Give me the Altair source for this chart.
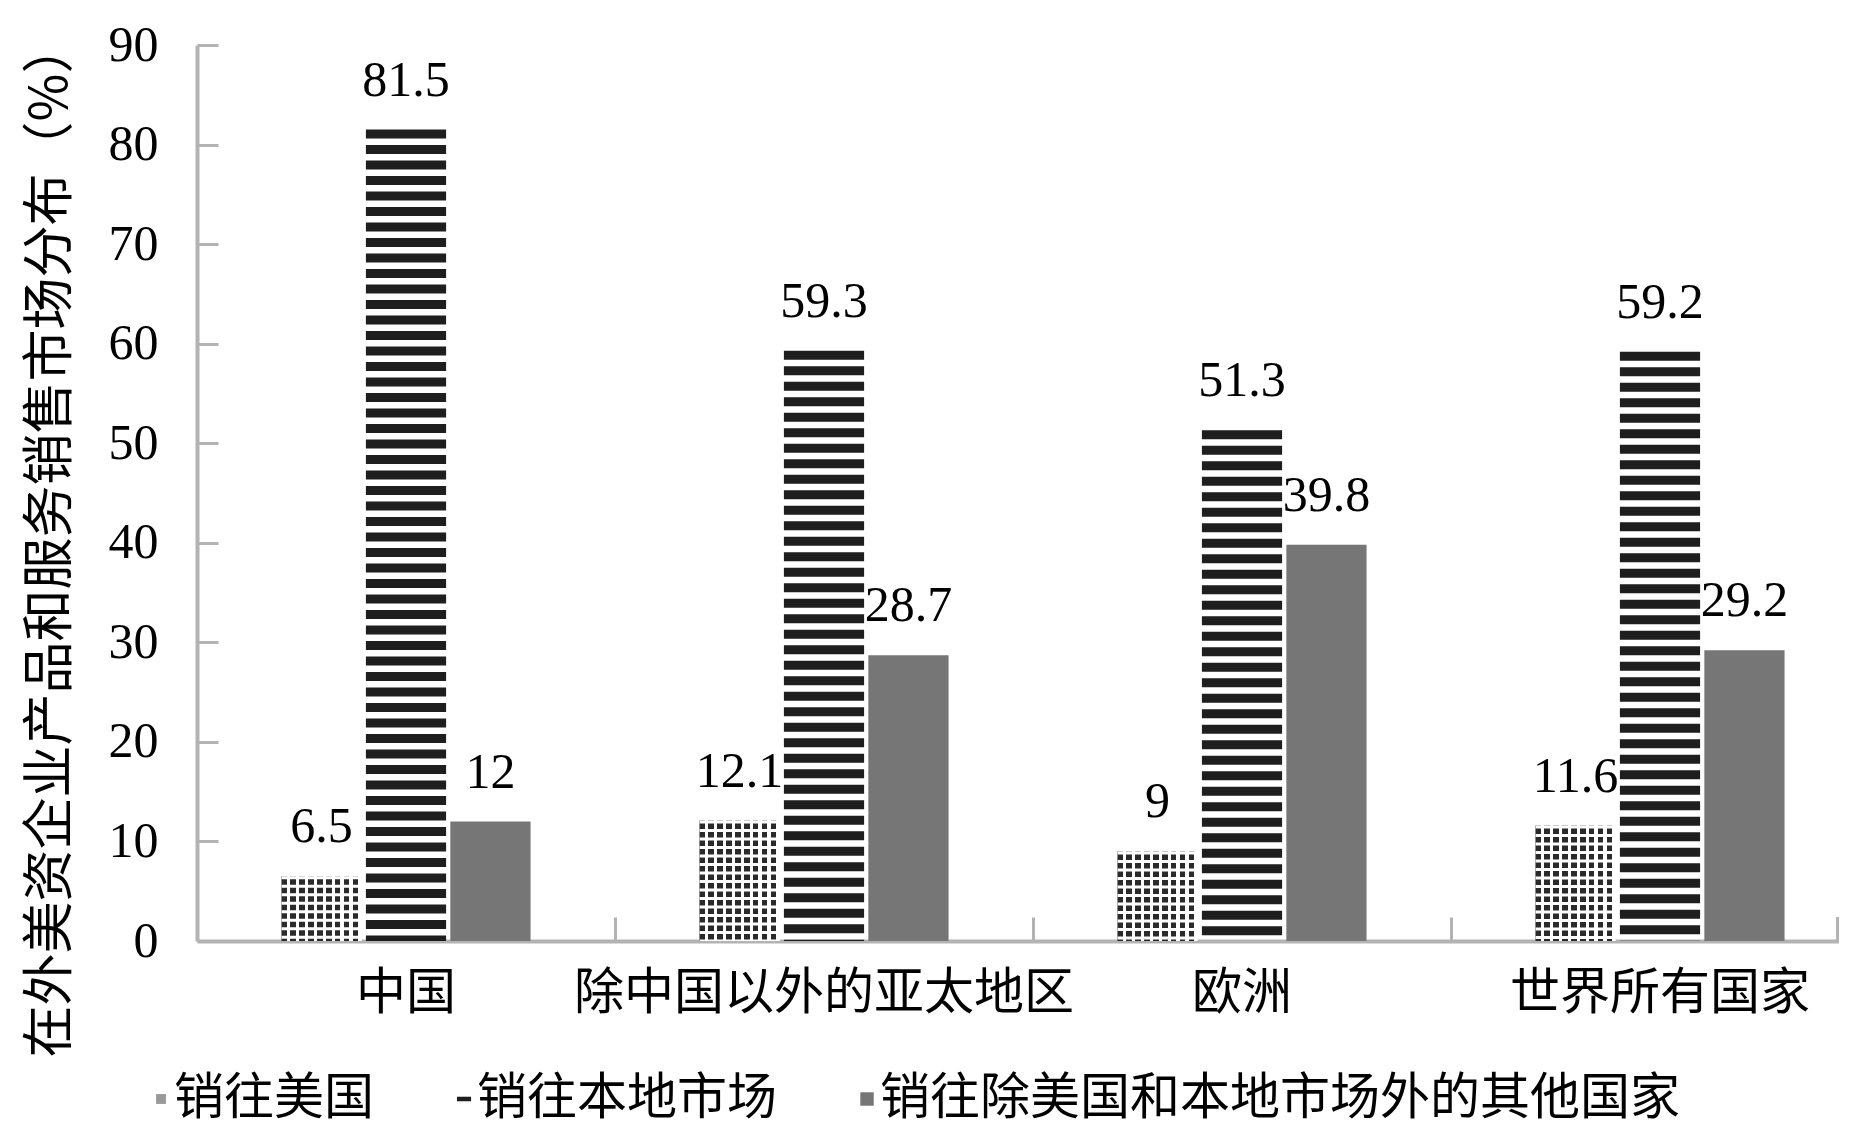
import altair as alt
import pandas as pd

# ---------------- data ----------------
CATEGORIES = ["中国", "除中国以外的亚太地区", "欧洲", "世界所有国家"]
SERIES = ["销往美国", "销往本地市场", "销往除美国和本地市场外的其他国家"]
US = [6.5, 12.1, 9, 11.6]
LOCAL = [81.5, 59.3, 51.3, 59.2]
OTHER = [12, 28.7, 39.8, 29.2]
Y_TICKS = [0, 10, 20, 30, 40, 50, 60, 70, 80, 90]
Y_TITLE = "在外美资企业产品和服务销售市场分布（%）"

rows = []
for s, vals in zip(SERIES, [US, LOCAL, OTHER]):
    for c, v in zip(CATEGORIES, vals):
        rows.append({"category": c, "series": s, "value": v})
df = pd.DataFrame(rows)

# ---------------- styles ----------------
W, H = 1642, 896          # visible plot area (the last band is cut by the frame)
X_RANGE = 1672            # full extent of the four category bands
BAR_W = 80.2
AXIS_GRAY = "#b3b3b3"
SERIF = "Liberation Serif"
CJK = "Noto Sans CJK SC"

x_scale = alt.Scale(domain=CATEGORIES, range=[0, X_RANGE], paddingInner=0, paddingOuter=0)
xo_scale = alt.Scale(domain=SERIES, paddingInner=0.05, paddingOuter=1)
y_scale = alt.Scale(domain=[0, 90], nice=False)

x_axis_main = alt.Axis(orient="bottom", ticks=False, tickSize=0, domain=True,
                       domainColor=AXIS_GRAY, domainWidth=4, labelFont=CJK,
                       labelFontSize=50, labelColor="black", labelPadding=27,
                       labelAngle=0, labelLimit=1000, labelOverlap=False,
                       title=None, grid=False)
y_axis_main = alt.Axis(orient="left", values=Y_TICKS, ticks=False, tickSize=0,
                       domain=True, domainColor=AXIS_GRAY, domainWidth=4,
                       labelFont=SERIF, labelFontSize=50, labelColor="black",
                       labelPadding=39, grid=False, title=Y_TITLE, titleFont=CJK,
                       titleFontSize=52, titleFontWeight="normal", titleColor="black",
                       titleX=-147, titleY=494, titleAlign="center",
                       titleBaseline="middle")
x_axis_ticks = alt.Axis(orient="top", offset=-H, labels=False, domain=False,
                        ticks=True, tickBand="extent", tickSize=24, tickWidth=3,
                        tickColor=AXIS_GRAY, title=None, grid=False)
y_axis_ticks = alt.Axis(orient="right", offset=-W, labels=False, domain=False,
                        ticks=True, tickSize=21, tickWidth=3, tickColor=AXIS_GRAY,
                        values=Y_TICKS, title=None, grid=False)


def xenc(axis):
    return alt.X("category:N", sort=CATEGORIES, scale=x_scale, axis=axis)


def yenc(axis):
    return alt.Y("value:Q", scale=y_scale, axis=axis)


xo = alt.XOffset("series:N", sort=SERIES, scale=xo_scale)

# lattice-like fill for the "销往美国" bars: dark columns...
n_cols = 9
stops = []
for i in range(n_cols):
    a, b, c = i / n_cols, (i + 0.62) / n_cols, (i + 1) / n_cols
    stops += [
        {"offset": a, "color": "#2a2a2a"},
        {"offset": b, "color": "#2a2a2a"},
        {"offset": b, "color": "#ffffff"},
        {"offset": c, "color": "#ffffff"},
    ]
lattice = {"gradient": "linear", "x1": 0, "y1": 0, "x2": 1, "y2": 0, "stops": stops}

base = alt.Chart(df)

us_bars = base.transform_filter(alt.datum.series == SERIES[0]).mark_bar(
    color=lattice
).encode(x=xenc(x_axis_main), xOffset=xo, y=yenc(y_axis_main))

# ...broken by white horizontal dashes
us_dash = base.transform_filter(alt.datum.series == SERIES[0]).mark_rule(
    stroke="white", strokeWidth=BAR_W - 0.4, strokeDash=[3, 5.5], strokeCap="butt"
).encode(x=xenc(None), xOffset=xo, y=yenc(None), y2=alt.datum(0))

local_rule = base.transform_filter(alt.datum.series == SERIES[1]).mark_rule(
    stroke="#1e1e1e", strokeWidth=BAR_W, strokeDash=[9, 6.5], strokeCap="butt"
).encode(x=xenc(None), xOffset=xo, y=yenc(None), y2=alt.datum(0))

other_bars = base.transform_filter(alt.datum.series == SERIES[2]).mark_bar(
    color="#767676"
).encode(x=xenc(None), xOffset=xo, y=yenc(None))

labels = base.mark_text(
    font=SERIF, fontSize=50, baseline="alphabetic", dy=-34, color="black"
).encode(x=xenc(x_axis_ticks), xOffset=xo, y=yenc(y_axis_ticks),
         text=alt.Text("value:Q"))

# small upward tick closing the x axis at the frame edge
end_tick = alt.Chart(pd.DataFrame({"k": [0]})).mark_rule(
    stroke=AXIS_GRAY, strokeWidth=3
).encode(x=alt.value(W - 1.5), y=alt.value(H - 24), y2=alt.value(H))

leg = alt.Legend(title=None, orient="none", legendX=-73, legendY=1029,
                 direction="horizontal", columns=3, labelFont=CJK,
                 labelFontSize=50, labelColor="black", labelLimit=1000,
                 labelOffset=0, columnPadding=53, padding=0, symbolSize=200,
                 symbolOpacity=1, symbolStrokeWidth=0)
LEG_COLORS = ["#9a9a9a", "#1e1e1e", "#767676"]
# symbol glyphs drawn right of their anchor so they sit close to the label
LEG_SHAPES = ["M1.0,-0.7H2.4V0.7H1.0Z", "M0.7,-0.32H2.7V0.32H0.7Z",
              "M0.75,-0.95H2.65V0.95H0.75Z"]
legend_layer = alt.Chart(pd.DataFrame({"series": SERIES})).mark_point(
    filled=True, opacity=0
).encode(
    color=alt.Color("series:N", scale=alt.Scale(domain=SERIES, range=LEG_COLORS), legend=leg),
    shape=alt.Shape("series:N", scale=alt.Scale(domain=SERIES, range=LEG_SHAPES), legend=leg),
)

chart = alt.layer(
    us_bars, other_bars, us_dash, local_rule, labels, end_tick, legend_layer
).properties(
    width=W, height=H,
    autosize=alt.AutoSizeParams(type="none"),
    padding={"left": 189, "top": 37, "right": 0, "bottom": 200},
    background="white",
).configure_view(strokeWidth=0).configure_axis(grid=False)

chart.save("out.html", embed_options={"renderer": "svg", "actions": False})
